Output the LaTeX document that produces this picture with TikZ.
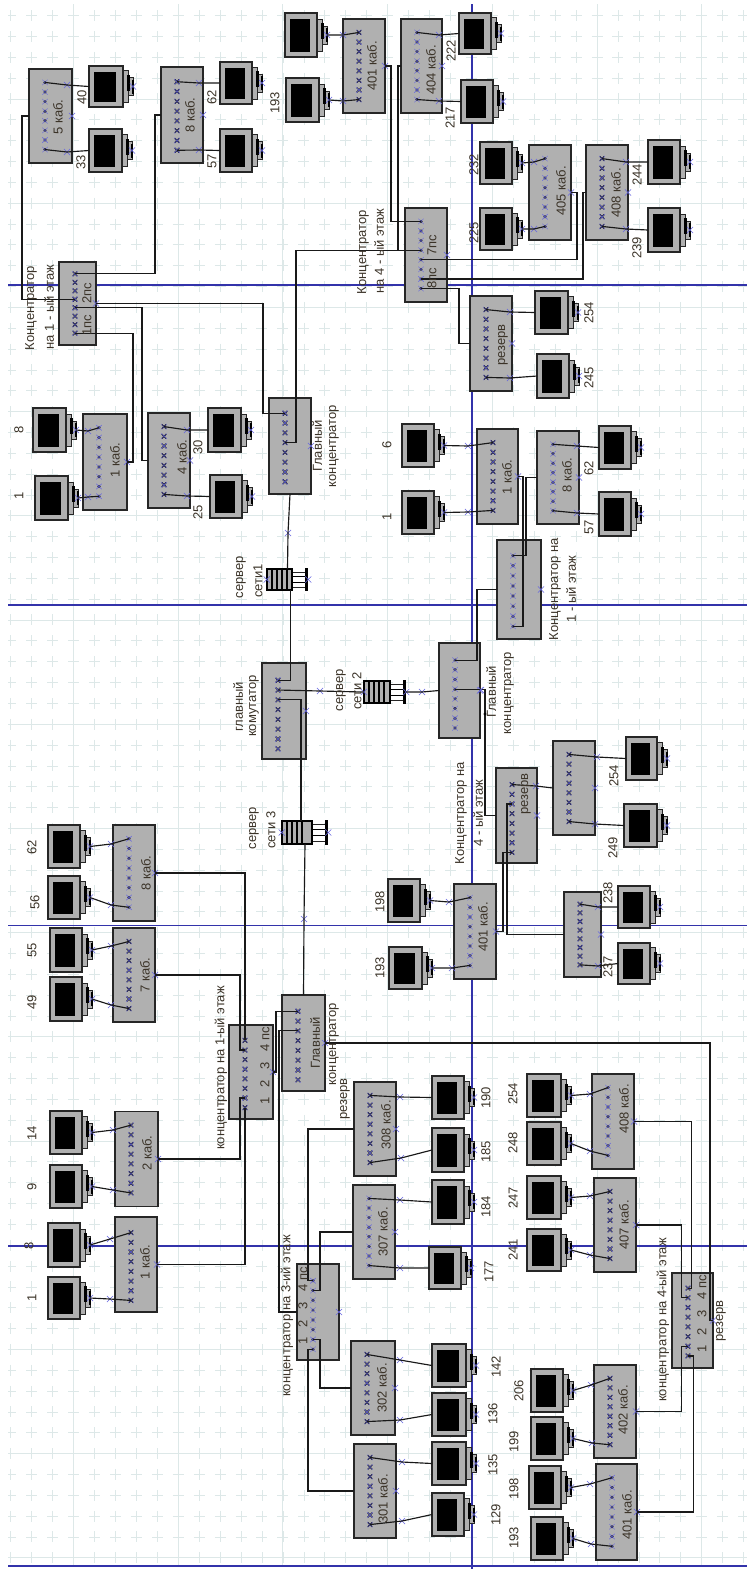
\documentclass[tikz,border=0pt]{standalone}
\usepackage{fontspec}
\setmainfont{Liberation Sans}
\usetikzlibrary{shapes.misc}
\definecolor{gridline}{HTML}{DDE8E8}
\definecolor{sheetblue}{HTML}{3333AA}
\definecolor{markblue}{HTML}{6666E0}
\definecolor{boxgray}{HTML}{B0B0B0}
\definecolor{labelink}{HTML}{3B3328}
\tikzset{
  hubbox/.style={draw=black!85,line width=1.3pt,fill=boxgray,inner sep=0pt,outer sep=0pt},
  monitorbox/.style={draw=black!85,line width=1.3pt,fill=boxgray,inner sep=0pt,outer sep=0pt},
  standpart/.style={draw=black!85,line width=1pt,fill=boxgray},
  wire/.style={draw=black!90,line width=1.15pt},
  xmark/.style={cross out,draw=markblue,line width=.6pt,minimum size=5.5pt,inner sep=0pt},
  portx/.style={cross out,draw=black,line width=1.1pt,minimum size=3.2pt,inner sep=0pt},
  portd/.style={circle,fill=black,minimum size=3.2pt,inner sep=0pt},
  lab/.style={rotate=90,text=labelink,inner sep=0pt,font=\fontsize{13}{14}\selectfont}
}
\newcommand{\psnums}{1\hspace{.8em}2\hspace{.8em}3\hspace{.8em}4 пс}
\newcommand{\hub}[7][0]{%
  \node[hubbox,minimum width=#5pt,minimum height=#6pt] (#2) at (#3,#4) {};
  \node[xmark] (#2-x) at (#2.east) {};
  \foreach \i in {1,...,8}{
    \pgfmathsetmacro{\py}{#4+#1+#6*0.357*(2*\i-9)/7}
    \pgfmathsetmacro{\px}{#3-#5/2+16}
    \node[#7] (#2-\i) at (\px,\py) {};
    \node[xmark,line width=.4pt,minimum size=5pt] at (\px,\py) {};
  }
}
\newcommand{\monitor}[5]{%
  \pgfmathsetmacro{\mx}{(#2+#4)/2}
  \pgfmathsetmacro{\my}{(#3+#5)/2}
  \pgfmathsetmacro{\mw}{#4-#2}
  \pgfmathsetmacro{\mh}{#5-#3}
  \draw[standpart] (#4+5,\my-9) rectangle (#4+10,\my+9);
  \draw[standpart] (#4,\my-16) rectangle (#4+5,\my+16);
  \fill[black] (#4+4,\my-12) rectangle (#4+6.5,\my+4);
  \draw[black,line width=1.6pt] (#4+10,\my-7) -- (#4+10,\my+7);
  \node[monitorbox,minimum width=\mw pt,minimum height=\mh pt] (#1) at (\mx,\my) {};
  \fill[black] (#2+5,#3+5.5) rectangle (#4-7,#5-5);
  \node[xmark] (#1-s) at (#4+10,\my) {};
}
\newcommand{\server}[5]{%
  \pgfmathsetmacro{\mx}{(#2+#4)/2}
  \pgfmathsetmacro{\my}{(#3+#5)/2}
  \pgfmathsetmacro{\mw}{#4-#2}
  \pgfmathsetmacro{\mh}{#5-#3}
  \node[inner sep=0pt,minimum width=\mw pt,minimum height=\mh pt] (#1) at (\mx,\my) {};
  \draw[standpart,fill=white] (#4-16,#3+3) rectangle (#4-3,#5-3);
  \draw[black,line width=.9pt] (#4-16,\my-3) -- (#4-3,\my-3) (#4-16,\my+3) -- (#4-3,\my+3);
  \draw[black,line width=1.8pt,fill=boxgray] (#2,#3) rectangle (#4-16,#5);
  \foreach \i in {1,...,4}{
    \draw[black,line width=1.1pt] (#2+\i*5,#3) -- (#2+\i*5,#5);
  }
  \draw[black,line width=2.2pt] (#4-1.5,#3-1) -- (#4-1.5,#5+1);
  \node[xmark] (#1-w) at (#1.west) {};
  \node[xmark] (#1-e) at (#1.east) {};
}
\newcommand{\lan}[4]{%
  \node[xmark] (#1-m) at (#2,#3) {};
  \draw[wire] (#1.center) -- (#1-m.center) -- (#4);
}
\begin{document}
\begin{tikzpicture}[x=1pt,y=-1pt]
\useasboundingbox (0,0) rectangle (747,1569);

\begin{scope}
\clip (8,4) rectangle (747,1566);
\foreach \x in {10.7,31.64,...,747} \draw[gridline,line width=.7pt,dash pattern=on 11pt off 9.84pt] (\x,-10.74) -- (\x,1570);
\foreach \y in {15.6,36.44,...,1566} \draw[gridline,line width=.7pt,dash pattern=on 11pt off 9.94pt] (-15.74,\y) -- (750,\y);
\foreach \x in {73.5,178.2,...,747} \draw[gridline,line width=1pt] (\x,4) -- (\x,1566);
\foreach \y in {99,203.2,...,1560} \draw[gridline,line width=1pt] (8,\y) -- (747,\y);
\end{scope}
\foreach \y in {285,605,925.5,1246,1566} \draw[sheetblue,line width=1.3pt] (8,\y) -- (747,\y);
\draw[sheetblue,line width=1.3pt] (472,4) -- (472,1569);

\hub{k5}{50.5}{116}{43}{94}{portd}
\hub[1]{k8}{182}{115}{42}{96}{portx}
\hub{e1}{77.5}{303.5}{37}{83}{portx}
\hub{k1}{105}{462}{44}{96}{portd}
\hub{k4}{169}{460.5}{42}{95}{portx}
\hub[1.5]{g1}{290}{446}{42}{96}{portx}
\hub{ku401}{364}{66}{42}{94}{portx}
\hub{k404}{421.5}{66}{41}{94}{portd}
\hub{c4}{426}{255}{42}{94}{portd}
\hub{k405}{550}{192.5}{42}{95}{portd}
\hub{k408}{607}{192.5}{42}{95}{portx}
\hub{rez1}{491}{343.5}{42}{95}{portx}
\hub{k1r}{497.5}{476.5}{41}{95}{portx}
\hub{k8r}{558}{477.5}{42}{93}{portd}
\hub[1.5]{c1}{519}{589.5}{44}{99}{portd}
\hub[3.5]{sw}{284}{711}{44}{96}{portx}
\hub[3.5]{g2}{459.5}{690.5}{41}{95}{portd}
\hub[3]{rez2}{516.5}{815.5}{41}{95}{portx}
\hub{ku}{574}{788}{42}{94}{portx}
\hub{k401m}{475}{931.5}{42}{95}{portd}
\hub{k238}{582.5}{934.5}{37}{85}{portx}
\hub{k8l}{134}{873}{42}{96}{portd}
\hub{k7l}{134}{975}{42}{94}{portx}
\hub{k2l}{136.5}{1159}{43}{95}{portx}
\hub[2]{k1l}{136}{1264.5}{42}{95}{portx}
\hub[2]{f1}{251}{1072}{44}{94}{portx}
\hub[2.5]{g3}{303.5}{1043}{43}{96}{portx}
\hub[3]{f3}{318}{1312}{42}{96}{portd}
\hub[1.5]{f4}{692.5}{1320.5}{41}{95}{portx}
\hub{k308}{375}{1129}{42}{94}{portx}
\hub{k307}{374}{1232}{42}{94}{portd}
\hub{k302}{373}{1388}{44}{94}{portx}
\hub{k301}{375}{1491}{42}{94}{portx}
\hub{k408b}{613}{1121.5}{42}{95}{portd}
\hub{k407b}{615}{1225}{42}{94}{portx}
\hub{k402b}{615}{1411.5}{42}{93}{portx}
\hub{k401b}{616.5}{1512}{41}{96}{portd}

\monitor{m40}{89}{66}{123}{107}
\monitor{m33}{89}{129}{122}{172}
\monitor{m62}{220}{62}{252}{104}
\monitor{m57}{220}{129}{252}{172}
\monitor{m8}{33}{408}{66}{452}
\monitor{m1}{35}{476}{68}{520}
\monitor{m30}{208}{408}{241}{452}
\monitor{m25}{210}{475}{242}{518}
\monitor{m193b}{285}{13}{317}{57}
\monitor{m193a}{286}{78}{319}{122}
\monitor{m222}{459}{13}{491}{54}
\monitor{m217}{461}{80}{493}{123}
\monitor{m232}{480}{142}{512}{184}
\monitor{m225}{480}{208}{512}{250}
\monitor{m244}{648}{140}{680}{184}
\monitor{m239}{648}{208}{680}{252}
\monitor{m254a}{535}{291}{568}{334}
\monitor{m245}{537}{354}{569}{398}
\monitor{m6}{402}{424}{434}{467}
\monitor{m1r}{402}{491}{434}{534}
\monitor{m62r}{599}{426}{631}{469}
\monitor{m57r}{599}{492}{631}{536}
\monitor{m254c}{626}{737}{657}{780}
\monitor{m249c}{624}{804}{657}{847}
\monitor{m198m}{388}{879}{420}{922}
\monitor{m193m}{389}{947}{422}{989}
\monitor{m238m}{618}{886}{650}{928}
\monitor{m237m}{618}{943}{650}{984}
\monitor{m62l}{48}{825}{80}{868}
\monitor{m56l}{48}{876}{80}{919}
\monitor{m55l}{50}{928}{82}{972}
\monitor{m49l}{50}{977}{82}{1021}
\monitor{m14l}{50}{1111}{82}{1154}
\monitor{m9l}{50}{1165}{82}{1208}
\monitor{m8l}{48}{1223}{80}{1267}
\monitor{m1l}{48}{1277}{80}{1319}
\monitor{m190}{432}{1076}{464}{1119}
\monitor{m185}{432}{1128}{464}{1172}
\monitor{m184}{432}{1180}{464}{1224}
\monitor{m177}{429}{1247}{461}{1289}
\monitor{m142}{432}{1344}{466}{1387}
\monitor{m136}{432}{1393}{466}{1436}
\monitor{m135}{432}{1442}{466}{1485}
\monitor{m129}{432}{1493}{464}{1536}
\monitor{m254b}{527}{1074}{561}{1117}
\monitor{m248}{527}{1122}{561}{1165}
\monitor{m247}{527}{1176}{561}{1219}
\monitor{m241}{527}{1229}{561}{1271}
\monitor{m206}{531}{1369}{563}{1412}
\monitor{m199}{531}{1417}{563}{1460}
\monitor{m198b}{529}{1466}{561}{1509}
\monitor{m193c}{531}{1517}{563}{1560}

\server{srv1}{267}{569}{308}{590}
\server{srv2}{364}{681}{406}{703}
\server{srv3}{282}{821}{328}{844}

\lan{k5-1}{67}{85}{m40.west}  \lan{k5-8}{67}{152}{m33.west}
\lan{k8-1}{199}{83}{m62.west}  \lan{k8-8}{199}{150}{m57.west}
\lan{k1-1}{88}{431}{m8-s.center}  \lan{k1-8}{88}{497}{m1-s.center}
\lan{k4-1}{187}{430}{m30.west}  \lan{k4-8}{187}{496}{m25.west}
\lan{ku401-1}{343}{35}{m193b-s.center}  \lan{ku401-8}{343}{101}{m193a-s.center}
\lan{k404-1}{439}{35}{m222.west}  \lan{k404-8}{439}{101}{m217.west}
\lan{k405-1}{534}{162}{m232-s.center}  \lan{k405-8}{534}{229}{m225-s.center}
\lan{k408-1}{626}{162}{m244.west}  \lan{k408-8}{626}{229}{m239.west}
\lan{rez1-1}{510}{312}{m254a.west}  \lan{rez1-8}{510}{378}{m245.west}
\lan{k1r-1}{468}{446}{m6-s.center}  \lan{k1r-8}{468}{512}{m1r-s.center}
\lan{k8r-1}{577}{446}{m62r.west}  \lan{k8r-8}{577}{513}{m57r.west}
\lan{ku-1}{597}{757}{m254c.west}  \lan{ku-8}{595}{824}{m249c.west}
\lan{k401m-1}{449}{902}{m198m-s.center}  \lan{k401m-8}{452}{968}{m193m-s.center}
\lan{k238-1}{598}{907}{m238m.west}  \lan{k238-8}{598}{966}{m237m.west}
\lan{k8l-1}{111}{844}{m62l-s.center}  \lan{k8l-8}{111}{905}{m56l-s.center}
\lan{k7l-1}{111}{946}{m55l-s.center}  \lan{k7l-8}{111}{1005}{m49l-s.center}
\lan{k2l-1}{113}{1130}{m14l-s.center}  \lan{k2l-8}{113}{1190}{m9l-s.center}
\lan{k1l-1}{110}{1239}{m8l-s.center}  \lan{k1l-8}{110}{1299}{m1l-s.center}
\lan{k308-1}{400}{1097}{m190.west}  \lan{k308-8}{401}{1158}{m185.west}
\lan{k307-1}{400}{1200}{m184.west}  \lan{k307-8}{400}{1268}{m177.west}
\lan{k302-1}{400}{1360}{m142.west}  \lan{k302-8}{400}{1420}{m136.west}
\lan{k301-1}{402}{1462}{m135.west}  \lan{k301-8}{402}{1521}{m129.west}
\lan{k408b-1}{590}{1094}{m254b-s.center}  \lan{k408b-8}{590}{1151}{m248-s.center}
\lan{k407b-1}{590}{1196}{m247-s.center}  \lan{k407b-8}{590}{1255}{m241-s.center}
\lan{k402b-1}{591}{1385}{m206-s.center}  \lan{k402b-8}{592}{1443}{m199-s.center}
\lan{k401b-1}{590}{1484}{m198b-s.center}  \lan{k401b-8}{591}{1544}{m193c-s.center}

\draw[wire] (e1-4.center) -| ([xshift=-7pt]k5.west) -- (k5.west);
\draw[wire] (e1-1.center) -| ([xshift=-6pt]k8.west) -- (k8.west);
\draw[wire] (e1-8.center) -| ([xshift=6pt]k1.east) -- (k1.east);
\draw[wire] (e1-5.center) -| ([xshift=-6pt]k4.west) -- (k4.west);
\draw[wire] (e1.east) -| ([xshift=-22pt]g1-1.center) -- (g1-1.center);
\draw[wire] (c4-4.center) -| ([xshift=11pt]g1-4.center) -- (g1-4.center);
\draw[wire] (ku401.east) -| ([xshift=-30pt]c4-1.center) -- (c4-1.center);
\draw[wire] (k404.west) -| ([xshift=-23pt]c4-4.center) -- (c4-4.center);
\draw[wire] (c4-5.center) -| ([xshift=6pt]k405.east) -- (k405.east);
\draw[wire] (c4-7.center) -| ([xshift=-3pt]k408.west) -- (k408.west);
\draw[wire] (c4-8.center) -| ([xshift=-11pt]rez1.west) -- (rez1.west);
\node[xmark] (xs1) at (288,533) {};
\draw[wire] (g1.south) -- (xs1.center) -- (srv1.north);
\draw[wire] ([xshift=3pt]srv1.south) |- (sw-1.center);
\node[xmark] (xs2) at (320,691) {};
\draw[wire] (sw-2.center) -- (xs2.center) -- (srv2-w.center);
\draw[wire] (sw-3.center) -| ([xshift=-4pt]srv3.north);
\node[xmark] (xs3) at (304,919) {};
\draw[wire] (srv3.south) -- (xs3.center) -- (g3.north);
\node[xmark] (xs4) at (422,692) {};
\draw[wire] (srv2-e.center) -- (xs4.center) -- (g2.west);
\draw[wire] (g2-1.center) -| ([xshift=-20pt]c1.west) -- (c1.west);
\draw[wire] (g2-4.center) -| ([xshift=-11pt]rez2.west) -- (rez2.west);
\node[xmark] (xg2) at (481,690) {};
\node[portd] (dg2) at (485,714) {};
\draw[wire] (c1-1.center) -| ([xshift=-11pt]k8r.west) -- (k8r.west);
\draw[wire] (c1-8.center) -| ([xshift=5pt]k1r.east) -- (k1r.east);
\node[xmark] (xr2) at (536,786) {};
\draw[wire] (rez2-1.center) -- (xr2.center) -- (ku.west);
\draw[wire] (rez2-8.center) -| ([xshift=7pt]k401m.east) -- (k401m.east);
\draw[wire] (rez2-3.center) -| ([xshift=-57pt]k238.west) -- (k238.west);
\draw[wire] (k8l.east) -| (f1-1.center);
\draw[wire] (k7l.east) -| ([xshift=-5pt]f1-2.center) -- (f1-2.center);
\draw[wire] (k2l.east) -| ([xshift=-5pt]f1-7.center) -- (f1-7.center);
\draw[wire] (k1l.east) -| (f1-8.center);
\draw[wire] (f1.east) -| ([xshift=-22pt]g3-1.center) -- (g3-1.center);
\draw[wire] (g3-3.center) -| ([xshift=-18pt]f3.west) -- (f3.west);
\draw[wire] (g3.east) -| ([xshift=-3pt]f4.east) -- (f4.east);
\draw[wire] (k308.west) -| ([xshift=-5pt]f3-1.center) -- (f3-1.center);
\draw[wire] (k307.west) -| ([xshift=7pt]f3-2.center) -- (f3-2.center);
\draw[wire] (k302.west) -| ([xshift=7pt]f3-7.center) -- (f3-7.center);
\draw[wire] (k301.west) -| ([xshift=-5pt]f3-8.center) -- (f3-8.center);
\draw[wire] (k408b.east) -| ([xshift=3.5pt]f4-1.center) -- (f4-1.center);
\draw[wire] (k407b.east) -| ([xshift=-6.5pt]f4-2.center) -- (f4-2.center);
\draw[wire] (k402b.east) -| ([xshift=-6.5pt]f4-7.center) -- (f4-7.center);
\draw[wire] (k401b.east) -| ([xshift=5.5pt]f4-8.center) -- (f4-8.center);

\node[lab] (lk5) at (58,117) {5 каб.};
\node[lab] (lk8) at (190,115) {8 каб.};
\node[lab] (lk1) at (115,460) {1 каб.};
\node[lab] (lk4) at (182,457) {4 каб.};
\node[lab] (lku401) at (372,66) {401 каб.};
\node[lab] (lk404) at (431,70) {404 каб.};
\node[lab] (lk405) at (561,191) {405 каб.};
\node[lab] (lk408) at (616,193) {408 каб.};
\node[lab] (lrez1) at (503,345) {резерв};
\node[lab] (l2pc) at (87,293) {2пс};
\node[lab] (l1pc) at (87,325) {1пс};
\node[lab] (l7pc) at (432,245) {7пс};
\node[lab] (l8pc) at (432,278) {8пс};
\node[lab] (lc1a) at (31,308) {Концентратор};
\node[lab] (lc1b) at (49,307) {на 1 - ый этаж};
\node[lab] (lc4a) at (363,252) {Концентратор};
\node[lab] (lc4b) at (379,251) {на 4 - ый этаж};
\node[lab] (lg1a) at (317,446) {Главный};
\node[lab] (lg1b) at (334,446) {концентратор};
\node[lab] (ls1a) at (241,577) {сервер};
\node[lab] (ls1b) at (258,581) {сети1};
\node[lab] (lswa) at (238,707) {главный};
\node[lab] (lswb) at (254,706) {комутатор};
\node[lab] (ls2a) at (341,690) {сервер};
\node[lab] (ls2b) at (357,691) {сети 2};
\node[lab] (ls3a) at (254,828) {сервер};
\node[lab] (ls3b) at (271,830) {сети 3};
\node[lab] (lg2a) at (491,692) {Главный};
\node[lab] (lg2b) at (509,693) {концентратор};
\node[lab] (lk1r) at (507,477) {1 каб.};
\node[lab] (lk8r) at (567,475) {8 каб.};
\node[lab] (lc1c) at (555,589) {Концентратор на};
\node[lab] (lc1d) at (571,589) {1 - ый этаж};
\node[lab] (lrez2) at (526,794) {резерв};
\node[lab] (lc4c) at (461,813) {Концентратор на};
\node[lab] (lc4d) at (478,813) {4 - ый этаж};
\node[lab] (lk401m) at (483,927) {401 каб.};
\node[lab] (lk8l) at (146,873) {8 каб.};
\node[lab] (lk7l) at (145,975) {7 каб.};
\node[lab] (lk2l) at (147,1153) {2 каб.};
\node[lab] (lk1l) at (145,1262) {1 каб.};
\node[lab] (lf1a) at (221,1068) {концентратор на 1-ый этаж};
\node[lab] (lf1b) at (265,1066) {\psnums};
\node[lab] (lg3a) at (315,1043) {Главный};
\node[lab] (lg3b) at (334,1044) {концентратор};
\node[lab] (lres) at (345,1099) {резерв};
\node[lab] (lk308) at (386,1125) {308 каб.};
\node[lab] (lk307) at (383,1232) {307 каб.};
\node[lab] (lk302) at (382,1388) {302 каб.};
\node[lab] (lk301) at (383,1499) {301 каб.};
\node[lab] (lf3a) at (287,1316) {концентратор на 3-ий этаж};
\node[lab] (lf3b) at (303,1306) {\psnums};
\node[lab] (lk408b) at (624,1109) {408 каб.};
\node[lab] (lk407b) at (624,1225) {407 каб.};
\node[lab] (lk402b) at (623,1410) {402 каб.};
\node[lab] (lk401b) at (627,1515) {401 каб.};
\node[lab] (lf4a) at (663,1320) {концентратор на 4-ый этаж};
\node[lab] (lf4b) at (702,1314) {\psnums};
\node[lab] (lres4) at (721,1321) {резерв};

\node[lab] (n40) at (82,97) {40};
\node[lab] (n33) at (81,162) {33};
\node[lab] (n62) at (212,97) {62};
\node[lab] (n57) at (212,161) {57};
\node[lab] (n8) at (19,430) {8};
\node[lab] (n1) at (19,496) {1};
\node[lab] (n30) at (198,447) {30};
\node[lab] (n25) at (198,512) {25};
\node[lab] (n193) at (275,103) {193};
\node[lab] (n222) at (451,51) {222};
\node[lab] (n217) at (450,118) {217};
\node[lab] (n232) at (474,165) {232};
\node[lab] (n225) at (474,233) {225};
\node[lab] (n244) at (637,175) {244};
\node[lab] (n239) at (637,248) {239};
\node[lab] (n254a) at (589,313) {254};
\node[lab] (n245) at (589,378) {245};
\node[lab] (n6) at (387,445) {6};
\node[lab] (n1r) at (387,517) {1};
\node[lab] (n62r) at (589,468) {62};
\node[lab] (n57r) at (589,527) {57};
\node[lab] (n254c) at (614,776) {254};
\node[lab] (n249c) at (613,848) {249};
\node[lab] (n198m) at (380,902) {198};
\node[lab] (n193m) at (380,968) {193};
\node[lab] (n238m) at (608,893) {238};
\node[lab] (n237m) at (608,967) {237};
\node[lab] (n62l) at (32,847) {62};
\node[lab] (n56l) at (35,902) {56};
\node[lab] (n55l) at (32,950) {55};
\node[lab] (n49l) at (32,1002) {49};
\node[lab] (n14l) at (32,1133) {14};
\node[lab] (n9l) at (32,1187) {9};
\node[lab] (n8l) at (29,1246) {8};
\node[lab] (n1l) at (32,1298) {1};
\node[lab] (n190) at (486,1098) {190};
\node[lab] (n185) at (486,1152) {185};
\node[lab] (n184) at (486,1207) {184};
\node[lab] (n177) at (489,1272) {177};
\node[lab] (n142) at (496,1367) {142};
\node[lab] (n136) at (493,1414) {136};
\node[lab] (n135) at (493,1465) {135};
\node[lab] (n129) at (496,1515) {129};
\node[lab] (n254b) at (513,1094) {254};
\node[lab] (n248) at (513,1143) {248};
\node[lab] (n247) at (513,1198) {247};
\node[lab] (n241) at (513,1250) {241};
\node[lab] (n206) at (519,1391) {206};
\node[lab] (n199) at (514,1442) {199};
\node[lab] (n198b) at (514,1489) {198};
\node[lab] (n193c) at (514,1538) {193};
\end{tikzpicture}
\end{document}
